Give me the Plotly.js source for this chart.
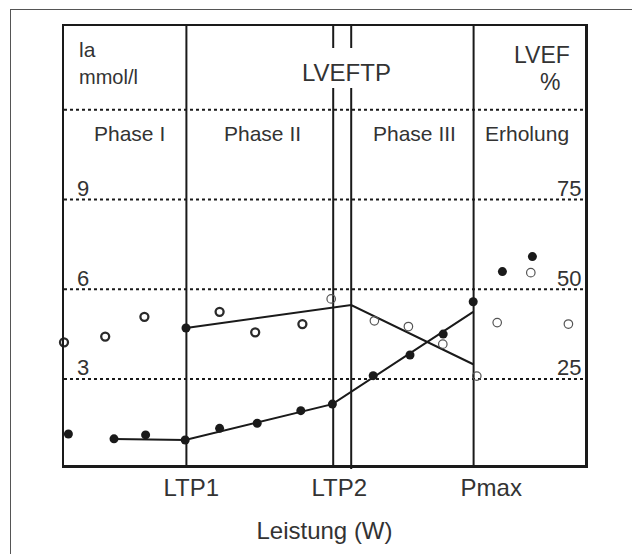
<!DOCTYPE html>
<html>
<head>
<meta charset="utf-8">
<script src="https://cdn.plot.ly/plotly-3.0.1.min.js"></script>
<style>
  html, body { margin: 0; padding: 0; background: #ffffff; overflow: hidden; }
  #wrap { position: relative; width: 632px; height: 554px; }
  #chart { position: absolute; left: 0; top: 0; width: 632px; height: 554px; }
  #frame { position: absolute; left: 10px; top: 9px; width: 700px; height: 700px;
           border-left: 1.5px solid #555555; border-top: 1.5px solid #555555;
           pointer-events: none; box-sizing: border-box; }
</style>
</head>
<body>
<div id="wrap">
  <div id="chart"></div>
  <div id="frame"></div>
</div>
<script>
// ---------- data ----------
// x: Leistung in stage units (arbitrary), y: lactate (mmol/l)
const lactateX = [0.11, 1.25, 2.04, 3.03, 3.89, 4.83, 5.92, 6.71, 7.73, 8.65, 9.48, 10.23, 10.96, 11.71];
const lactateY = [1.16, 1.00, 1.13, 0.96, 1.35, 1.52, 1.94, 2.16, 3.11, 3.80, 4.50, 5.58, 6.59, 7.09];

// lactate trend line (segments)
const lactateFitX = [1.25, 3.03, 6.71, 10.23];
const lactateFitY = [0.99, 0.96, 2.16, 5.24];

// LVEF (%) - open circles, phase I/II (bold) and after LTP2 (thin)
const lvefBoldX = [0.0, 1.03, 2.01, 3.89, 4.78, 5.96];
const lvefBoldY = [35.2, 36.8, 42.3, 43.7, 38.0, 40.3];
const lvefThinX = [6.68, 7.76, 8.61, 9.47, 10.32, 10.83, 11.67, 12.61];
const lvefThinY = [47.3, 41.2, 39.6, 34.7, 25.8, 40.7, 54.6, 40.3];

// LVEF trend line
const lvefFitX = [3.05, 7.18, 10.23];
const lvefFitY = [39.2, 45.6, 29.1];

// threshold positions
const ltp1 = 3.06;
const ltp2a = 6.73;
const ltp2b = 7.18;
const pmax = 10.24;

// ticks / labels
const laTicks = [3, 6, 9];
const laGrid = [3, 6, 9, 12];
const lvefTicks = [25, 50, 75];
const xTickText = ['LTP1', 'LTP2', 'Pmax'];
const xTickPos = [3.18, 6.88, 10.68];
const phaseNames = ['Phase I', 'Phase II', 'Phase III', 'Erholung'];
const phasePos = [1.64, 4.95, 8.75, 11.58];

// ---------- layout helpers ----------
const FONT = 'Liberation Sans, Arial, sans-serif';
const TXT = '#333333';
const INK = '#1a1a1a';
const L = 64, T = 26, W = 521, H = 439;
const px = v => (v - L) / W;          // page px -> paper x
const py = v => (T + H - v) / H;      // page px -> paper y

const traces = [
  { x: lactateFitX, y: lactateFitY, mode: 'lines', line: { color: INK, width: 2 }, hoverinfo: 'skip' },
  { x: lvefFitX, y: lvefFitY, yaxis: 'y2', mode: 'lines', line: { color: INK, width: 2 }, hoverinfo: 'skip' },
  { x: [lvefFitX[0]], y: [lvefFitY[0]], yaxis: 'y2', mode: 'markers', cliponaxis: false,
    marker: { color: INK, size: 9, symbol: 'circle' } },
  { x: lactateX, y: lactateY, mode: 'markers', cliponaxis: false,
    marker: { color: INK, size: 9, symbol: 'circle' } },
  { x: lvefBoldX, y: lvefBoldY, yaxis: 'y2', mode: 'markers', cliponaxis: false,
    marker: { symbol: 'circle-open', size: 8, color: '#2a2a2a', line: { width: 2.3, color: '#2a2a2a' } } },
  { x: lvefThinX, y: lvefThinY, yaxis: 'y2', mode: 'markers', cliponaxis: false,
    marker: { symbol: 'circle-open', size: 8.5, color: '#555555', line: { width: 1.2, color: '#555555' } } }
];

const shapes = [];
// dotted horizontal lines
laGrid.forEach(v => shapes.push({ type: 'line', xref: 'paper', yref: 'y', x0: 0, x1: 1, y0: v, y1: v, layer: 'below',
  line: { color: INK, width: 2, dash: 'dot' } }));
// vertical threshold lines
[ltp1, pmax].forEach(v => shapes.push({ type: 'line', xref: 'x', yref: 'paper', x0: v, x1: v, y0: 0, y1: 1, layer: 'below',
  line: { color: INK, width: 2 } }));
[ltp2a, ltp2b].forEach((v, i) => {
  shapes.push({ type: 'line', xref: 'x', yref: 'paper', x0: v, x1: v, y0: py(48), y1: 1, layer: 'below',
    line: { color: INK, width: 2 } });
  shapes.push({ type: 'line', xref: 'x', yref: 'paper', x0: v, x1: v, y0: i === 1 ? py(469) : 0, y1: py(88), layer: 'below',
    line: { color: INK, width: 2 } });
});

const ann = [];
const t = (text, x, y, size, xanchor) => ({
  text, x, y, xref: 'paper', yref: 'paper', xanchor: xanchor || 'center', yanchor: 'middle',
  showarrow: false, font: { family: FONT, size, color: TXT }
});
ann.push(t('la', px(77), py(50), 21, 'left'));
ann.push(t('mmol/l', px(77), py(77), 20, 'left'));
ann.push(t('LVEFTP', px(346), py(72), 24, 'center'));
ann.push(t('LVEF', px(572), py(55), 23, 'right'));
ann.push(t('%', px(562), py(82), 23, 'right'));
phaseNames.forEach((n, i) => ann.push({
  text: n, x: phasePos[i], xref: 'x', y: py(133), yref: 'paper', xanchor: 'center', yanchor: 'middle',
  showarrow: false, font: { family: FONT, size: 21, color: TXT }
}));
laTicks.forEach(v => ann.push({
  text: String(v), x: px(75), xref: 'paper', y: v, yref: 'y', xanchor: 'left', yanchor: 'middle', yshift: 11,
  showarrow: false, font: { family: FONT, size: 22, color: TXT }
}));
lvefTicks.forEach(v => ann.push({
  text: String(v), x: px(583), xref: 'paper', y: v, yref: 'y2', xanchor: 'right', yanchor: 'middle', yshift: 11,
  showarrow: false, font: { family: FONT, size: 22, color: TXT }
}));

const layout = {
  width: 632, height: 554,
  margin: { l: L, r: 632 - L - W, t: T, b: 554 - T - H, pad: 0 },
  paper_bgcolor: '#ffffff', plot_bgcolor: '#ffffff',
  showlegend: false,
  xaxis: {
    range: [0, 13.025], showgrid: false, zeroline: false,
    showline: true, mirror: true, linecolor: INK, linewidth: 2.5,
    ticks: '', tickvals: xTickPos, ticktext: xTickText, ticklabelstandoff: 0,
    tickfont: { family: FONT, size: 24, color: TXT },
    title: { text: 'Leistung (W)', standoff: 22, font: { family: FONT, size: 24, color: TXT } },
    automargin: false, fixedrange: true
  },
  yaxis: {
    range: [0.125, 14.797], showgrid: false, zeroline: false,
    showline: true, mirror: true, linecolor: INK, linewidth: 2.5,
    ticks: '', showticklabels: false, automargin: false, fixedrange: true
  },
  yaxis2: {
    range: [1.04, 123.3], overlaying: 'y', side: 'right', visible: false, fixedrange: true
  },
  shapes, annotations: ann
};

Plotly.newPlot('chart', traces, layout, { staticPlot: true, displayModeBar: false });
</script>
</body>
</html>
